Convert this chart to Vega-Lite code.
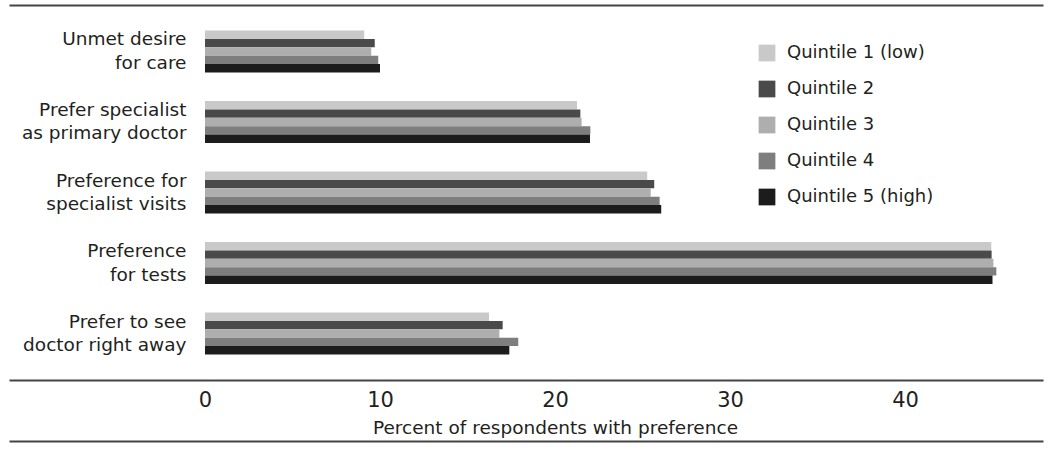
{
  "$schema": "https://vega.github.io/schema/vega-lite/v6.json",
  "width": 1034,
  "height": 375,
  "autosize": "none",
  "padding": {"left": 9, "top": 5, "right": 7, "bottom": 70},
  "background": "white",
  "config": {"view": {"stroke": null}, "font": "DejaVu Sans"},
  "data": {
    "values": [
      {"item": "Unmet desire\nfor care", "group": "Quintile 1 (low)", "pct": 9.1},
      {"item": "Unmet desire\nfor care", "group": "Quintile 2", "pct": 9.7},
      {"item": "Unmet desire\nfor care", "group": "Quintile 3", "pct": 9.5},
      {"item": "Unmet desire\nfor care", "group": "Quintile 4", "pct": 9.9},
      {"item": "Unmet desire\nfor care", "group": "Quintile 5 (high)", "pct": 10.0},
      {"item": "Prefer specialist\nas primary doctor", "group": "Quintile 1 (low)", "pct": 21.26},
      {"item": "Prefer specialist\nas primary doctor", "group": "Quintile 2", "pct": 21.45},
      {"item": "Prefer specialist\nas primary doctor", "group": "Quintile 3", "pct": 21.52},
      {"item": "Prefer specialist\nas primary doctor", "group": "Quintile 4", "pct": 22.02},
      {"item": "Prefer specialist\nas primary doctor", "group": "Quintile 5 (high)", "pct": 22.0},
      {"item": "Preference for\nspecialist visits", "group": "Quintile 1 (low)", "pct": 25.27},
      {"item": "Preference for\nspecialist visits", "group": "Quintile 2", "pct": 25.67},
      {"item": "Preference for\nspecialist visits", "group": "Quintile 3", "pct": 25.47},
      {"item": "Preference for\nspecialist visits", "group": "Quintile 4", "pct": 25.98},
      {"item": "Preference for\nspecialist visits", "group": "Quintile 5 (high)", "pct": 26.07},
      {"item": "Preference\nfor tests", "group": "Quintile 1 (low)", "pct": 44.93},
      {"item": "Preference\nfor tests", "group": "Quintile 2", "pct": 44.95},
      {"item": "Preference\nfor tests", "group": "Quintile 3", "pct": 45.05},
      {"item": "Preference\nfor tests", "group": "Quintile 4", "pct": 45.22},
      {"item": "Preference\nfor tests", "group": "Quintile 5 (high)", "pct": 45.0},
      {"item": "Prefer to see\ndoctor right away", "group": "Quintile 1 (low)", "pct": 16.23},
      {"item": "Prefer to see\ndoctor right away", "group": "Quintile 2", "pct": 17.01},
      {"item": "Prefer to see\ndoctor right away", "group": "Quintile 3", "pct": 16.82},
      {"item": "Prefer to see\ndoctor right away", "group": "Quintile 4", "pct": 17.9},
      {"item": "Prefer to see\ndoctor right away", "group": "Quintile 5 (high)", "pct": 17.39}
    ]
  },
  "layer": [
    {
      "mark": {"type": "bar"},
      "encoding": {
        "y": {
          "field": "item",
          "type": "nominal",
          "sort": ["Unmet desire\nfor care", "Prefer specialist\nas primary doctor", "Preference for\nspecialist visits", "Preference\nfor tests", "Prefer to see\ndoctor right away"],
          "scale": {"paddingInner": 0.404, "paddingOuter": 0.3615},
          "axis": {
            "title": null,
            "orient": "left",
            "offset": -196,
            "domain": false,
            "ticks": false,
            "labelPadding": 19,
            "labelOffset": -12,
            "labelExpr": "split(datum.label, '\\n')",
            "labelFontSize": 18.5,
            "labelLineHeight": 23.5,
            "labelColor": "#231f20",
            "labelLimit": 400
          }
        },
        "yOffset": {
          "field": "group",
          "type": "nominal",
          "sort": ["Quintile 1 (low)", "Quintile 2", "Quintile 3", "Quintile 4", "Quintile 5 (high)"],
          "scale": {"paddingInner": 0, "paddingOuter": 0}
        },
        "x": {
          "field": "pct",
          "type": "quantitative",
          "stack": null,
          "scale": {"domain": [-11.2, 47.886], "nice": false},
          "axis": {
            "orient": "bottom",
            "values": [0, 10, 20, 30, 40],
            "grid": false,
            "ticks": false,
            "domainColor": "#444444",
            "domainWidth": 2,
            "labelFontSize": 21,
            "labelPadding": 9,
            "labelColor": "#231f20",
            "title": "Percent of respondents with preference",
            "titleFontSize": 18.5,
            "titleFontWeight": "normal",
            "titleColor": "#231f20",
            "titleX": 546,
            "titleY": 53,
            "titleAlign": "center",
            "titleBaseline": "alphabetic"
          }
        },
        "color": {
          "field": "group",
          "type": "nominal",
          "sort": ["Quintile 1 (low)", "Quintile 2", "Quintile 3", "Quintile 4", "Quintile 5 (high)"],
          "scale": {
            "domain": ["Quintile 1 (low)", "Quintile 2", "Quintile 3", "Quintile 4", "Quintile 5 (high)"],
            "range": ["#c9c9c9", "#4a4a4a", "#aeaeae", "#7e7e7e", "#1c1c1c"]
          },
          "legend": {
            "title": null,
            "orient": "none",
            "legendX": 749,
            "legendY": 39,
            "padding": 0,
            "symbolType": "square",
            "symbolSize": 280,
            "symbolStrokeWidth": 0,
            "labelFontSize": 18,
            "labelColor": "#231f20",
            "labelOffset": 11,
            "rowPadding": 18
          }
        }
      }
    },
    {
      "mark": {"type": "bar", "opacity": 0},
      "encoding": {
        "x": {
          "field": "pct",
          "type": "quantitative",
          "stack": null,
          "scale": {"domain": [-11.2, 47.886], "nice": false},
          "axis": {"orient": "top", "grid": false, "ticks": false, "labels": false, "title": null, "domainColor": "#444444", "domainWidth": 2}
        }
      }
    },
    {
      "mark": {"type": "bar", "opacity": 0},
      "encoding": {
        "x": {
          "field": "pct",
          "type": "quantitative",
          "stack": null,
          "scale": {"domain": [-11.2, 47.886], "nice": false},
          "axis": {"orient": "bottom", "offset": 61, "grid": false, "ticks": false, "labels": false, "title": null, "domainColor": "#444444", "domainWidth": 2}
        }
      }
    }
  ],
  "resolve": {"axis": {"x": "independent"}}
}
